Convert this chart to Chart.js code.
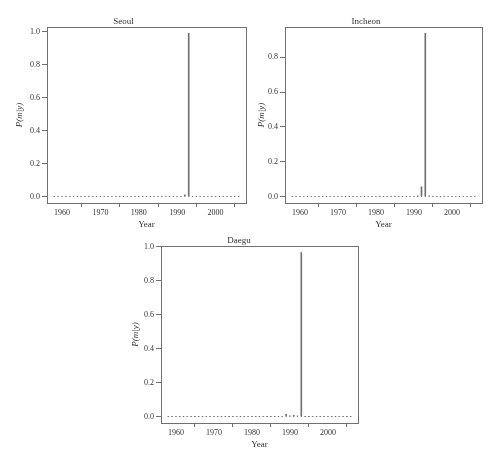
<!DOCTYPE html>
<html>
<head>
<meta charset="utf-8">
<script src="https://cdn.jsdelivr.net/npm/chart.js@4"></script>
<style>
    body { margin: 0; background: #fff; width: 500px; height: 467px; position: relative; overflow: hidden; }
    canvas { position: absolute; }
</style>
</head>
<body>
<canvas id="seoul" width="250" height="235" style="left:0px;top:0px;width:250px;height:235px"></canvas>
<canvas id="incheon" width="250" height="235" style="left:250px;top:0px;width:250px;height:235px"></canvas>
<canvas id="daegu" width="250" height="235" style="left:120px;top:220px;width:250px;height:235px"></canvas>
<script>
// ============================
// Data (posterior P(m|y) per change year)
// ============================

const years = [
    1958, 1959, 1960, 1961, 1962, 1963, 1964, 1965, 1966, 1967,
    1968, 1969, 1970, 1971, 1972, 1973, 1974, 1975, 1976, 1977,
    1978, 1979, 1980, 1981, 1982, 1983, 1984, 1985, 1986, 1987,
    1988, 1989, 1990, 1991, 1992, 1993, 1994, 1995, 1996, 1997,
    1998, 1999, 2000, 2001, 2002, 2003, 2004, 2005, 2006
];

const seoulP = [
    0, 0, 0, 0, 0, 0, 0, 0, 0, 0,
    0, 0, 0, 0, 0, 0, 0, 0, 0, 0,
    0, 0, 0, 0, 0, 0, 0, 0, 0, 0,
    0, 0, 0, 0, 0.01, 0.99, 0, 0, 0, 0,
    0, 0, 0, 0, 0, 0, 0, 0, 0
];

const incheonP = [
    0, 0, 0, 0, 0, 0, 0, 0, 0, 0,
    0, 0, 0, 0, 0, 0, 0, 0, 0, 0,
    0, 0, 0, 0, 0, 0, 0, 0, 0, 0,
    0, 0, 0, 0.003, 0.055, 0.937, 0.004, 0, 0, 0,
    0, 0, 0, 0, 0, 0, 0, 0, 0
];

const daeguP = [
    0, 0, 0, 0, 0, 0, 0, 0, 0, 0,
    0, 0, 0, 0, 0, 0, 0, 0, 0, 0,
    0, 0, 0, 0, 0, 0, 0, 0, 0, 0,
    0, 0.012, 0.003, 0.007, 0.003, 0.965, 0, 0, 0, 0,
    0, 0, 0, 0, 0, 0, 0, 0, 0
];

const xTicks = [1960, 1970, 1980, 1990, 2000];
const yTicksFull = [0, 0.2, 0.4, 0.6, 0.8, 1.0];
const yTicksIncheon = [0, 0.2, 0.4, 0.6, 0.8];

// ============================
// Panel builder
// ============================

const SERIF = "'Liberation Serif', 'DejaVu Serif', serif";
const LINE = '#707070';
const TEXT = '#333';

// R style range: data range padded by 4% each side
function paddedRange(lo, hi) {
    const d = (hi - lo) * 0.04;
    return [lo - d, hi + d];
}

const framePlugin = {
    id: 'frame',
    afterDraw(chart) {
        const a = chart.chartArea;
        const ctx = chart.ctx;
        ctx.save();
        ctx.strokeStyle = LINE;
        ctx.lineWidth = 1;
        ctx.strokeRect(Math.round(a.left) + 0.5, Math.round(a.top) + 0.5,
            Math.round(a.right - a.left), Math.round(a.bottom - a.top));
        ctx.restore();
    }
};

function makePanel(id, title, values, yTicks, box) {
    const [xMin, xMax] = paddedRange(years[0], years[years.length - 1]);
    const [yMin, yMax] = paddedRange(0, Math.max(...values));

    const bars = years.map((yr, i) => ({ x: yr, y: values[i] }));
    const dots = years.map(yr => ({ x: yr, y: 0 }));

    new Chart(document.getElementById(id), {
        type: 'bar',
        data: {
            datasets: [{
                type: 'scatter',
                data: dots,
                pointStyle: 'rect',
                pointRadius: 0.7,
                pointBackgroundColor: LINE,
                pointBorderWidth: 0,
                order: 2
            }, {
                data: bars,
                backgroundColor: LINE,
                barThickness: 1,
                grouped: false,
                order: 1
            }]
        },
        options: {
            responsive: false,
            animation: false,
            layout: {
                padding: { left: 0, right: box.right, top: 0, bottom: 0 }
            },
            scales: {
                x: {
                    type: 'linear',
                    min: xMin,
                    max: xMax,
                    offset: false,
                    afterFit: s => { s.height = box.xHeight; },
                    afterBuildTicks: s => { s.ticks = xTicks.map(v => ({ value: v })); },
                    grid: {
                        drawOnChartArea: false,
                        tickLength: 4,
                        color: LINE
                    },
                    border: { display: false },
                    ticks: {
                        color: TEXT,
                        padding: 1,
                        maxRotation: 0,
                        font: { family: SERIF, size: 8 },
                        callback: v => String(v)
                    },
                    title: {
                        display: true,
                        text: 'Year',
                        color: TEXT,
                        font: { family: SERIF, size: 9 },
                        padding: { top: 0, bottom: 4.6 }
                    }
                },
                y: {
                    type: 'linear',
                    min: yMin,
                    max: yMax,
                    afterFit: s => { s.width = box.yWidth; },
                    afterBuildTicks: s => { s.ticks = yTicks.map(v => ({ value: v })); },
                    grid: {
                        drawOnChartArea: false,
                        tickLength: 5,
                        color: LINE
                    },
                    border: { display: false },
                    ticks: {
                        color: TEXT,
                        padding: 2,
                        font: { family: SERIF, size: 8 },
                        callback: v => v.toFixed(1)
                    },
                    title: {
                        display: true,
                        text: 'P(m|y)',
                        color: TEXT,
                        font: { family: SERIF, size: 9, style: 'italic' },
                        padding: { top: box.yTitle, bottom: 0 }
                    }
                }
            },
            plugins: {
                legend: { display: false },
                tooltip: { enabled: false },
                title: {
                    display: true,
                    text: title,
                    color: TEXT,
                    font: { family: SERIF, size: 9, weight: 'normal' },
                    padding: box.titlePad
                }
            }
        },
        plugins: [framePlugin]
    });
}

makePanel('seoul', 'Seoul', seoulP, yTicksFull,
    { yWidth: 47, xHeight: 32, right: 3, yTitle: 14.6, titlePad: { top: 16, bottom: 0 } });
makePanel('incheon', 'Incheon', incheonP, yTicksIncheon,
    { yWidth: 35, xHeight: 32, right: 18, yTitle: 6.6, titlePad: { top: 16, bottom: 0 } });
makePanel('daegu', 'Daegu', daeguP, yTicksFull,
    { yWidth: 41, xHeight: 32, right: 12, yTitle: 10.3, titlePad: { top: 14.9, bottom: 0.3 } });
</script>
</body>
</html>
